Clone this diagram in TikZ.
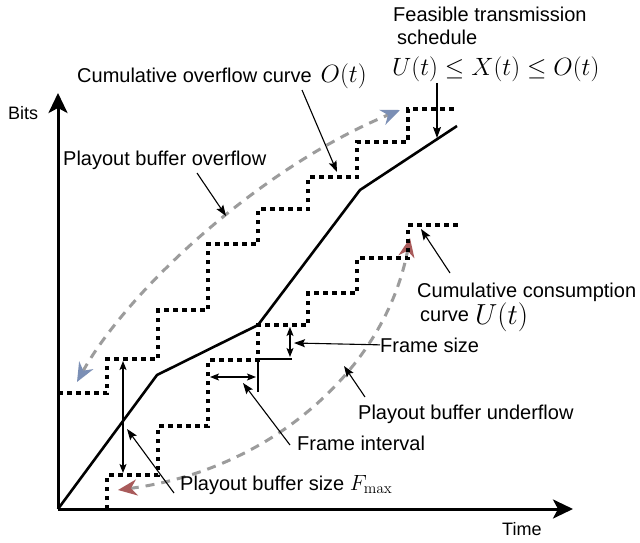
\RequirePackage{fix-cm}
\documentclass[tikz,border=0pt]{standalone}
\usepackage[no-math]{fontspec}
\setmainfont{Liberation Sans}
\usetikzlibrary{arrows.meta}
\definecolor{dashgray}{HTML}{9C9C9C}
\definecolor{headblue}{HTML}{7B8FB5}
\definecolor{headred}{HTML}{A95B5B}
\begin{document}
\begin{tikzpicture}[x=1pt,y=-1pt,
 lbl/.style={anchor=base west, inner sep=0pt, font=\fontsize{20}{23}\selectfont},
 axlbl/.style={anchor=base west, inner sep=0pt, font=\fontsize{18}{21}\selectfont},
 mathlbl/.style={anchor=base west, inner sep=0pt, font=\fontsize{25}{28}\selectfont},
 axis/.style={line width=3pt, -{Stealth[length=20pt,width=19pt,inset=5pt]}},
 stair/.style={line width=4pt, dash pattern=on 4.5pt off 4.5pt},
 sched/.style={line width=2.6pt, line join=round},
 thinline/.style={line width=1.3pt},
 ptr/.style={line width=1.1pt, -{Stealth[length=11pt,width=8pt,inset=2pt]}},
 dbl/.style={line width=1.1pt, {Stealth[length=9pt,width=7pt,inset=2pt]}-{Stealth[length=9pt,width=7pt,inset=2pt]}},
 gdash/.style={draw=dashgray, line width=3pt, dash pattern=on 9pt off 7pt},
 bluetips/.style={{Stealth[length=19pt,width=16pt,inset=6pt,color=headblue]}-{Stealth[length=19pt,width=16pt,inset=6pt,color=headblue]}},
 redtips/.style={{Stealth[length=19pt,width=16pt,inset=6pt,color=headred]}-{Stealth[length=19pt,width=16pt,inset=6pt,color=headred]}},
]
\useasboundingbox (0,0) rectangle (640,543);
\fill[white] (0,0) rectangle (640,543);

% axes
\coordinate (o) at (58,509);
\coordinate (ytip) at (58,93);
\coordinate (xtip) at (573,509);
\draw[axis] (o) -- (ytip);
\draw[axis] (o) -- (xtip);
\node[axlbl] (tBits) at (8,119) {Bits};
\node[axlbl] (tTime) at (502,535) {Time};

% dashed gray curves
\coordinate (ovA) at (77,382);
\coordinate (ovB) at (400,110);
\draw[gdash, bluetips] (ovA) .. controls (125,295) and (255,170) .. (ovB);
\coordinate (unA) at (118,490);
\coordinate (unB) at (410,238);
\draw[gdash, redtips] (unA) .. controls (270,470) and (385,370) .. (unB);

% staircases
\draw[stair] (58,393) -| (107,359) -| (158,310) -| (208,244) -| (258,209) -| (308,177) -| (357,142) -| (408,109) -- (458,109);
\draw[stair] (107,509) |- (158,475) |- (208,426) |- (258,360) |- (308,325) |- (357,293) |- (408,258) |- (458,225);

% transmission schedule
\draw[sched] (o) -- (157,375) -- (258,325) -- (360,190) -- (457,126);

% frame size / interval helpers
\coordinate (fsA) at (258,359);
\coordinate (fsB) at (292,359);
\coordinate (fiV) at (258,392);
\draw[thinline] (fsB) -- (fsA) -- (fiV);
\coordinate (fsT) at (290,327);
\coordinate (fsD) at (290,357);
\draw[dbl] (fsT) -- (fsD);
\coordinate (fiL) at (210,377);
\coordinate (fiR) at (256,377);
\draw[dbl] (fiL) -- (fiR);
\coordinate (bsT) at (123,361);
\coordinate (bsD) at (123,473);
\draw[dbl] (bsT) -- (bsD);

% labels
\node[lbl] (tOv) at (77,83) {Cumulative overflow curve\hspace{9pt}{\fontsize{25}{28}\selectfont$O(t)$}};
\node[lbl] (tPbo) at (63,165) {Playout buffer overflow};
\node[lbl] (tFea1) at (393,22) {Feasible transmission};
\node[lbl] (tFea2) at (397,45) {schedule};
\node[mathlbl] (tFea3) at (392,75) {$U(t)\le X(t)\le O(t)$};
\node[lbl] (tCc1) at (417,297) {Cumulative consumption};
\node[lbl] (tCc2) at (420,321) {curve\hspace{6pt}\raisebox{-3pt}{\fontsize{29}{32}\selectfont$U(t)$}};
\node[lbl] (tFs) at (380,352) {Frame size};
\node[lbl] (tPbu) at (358,419) {Playout buffer underflow};
\node[lbl] (tFi) at (297,450) {Frame interval};
\node[lbl] (tPbs) at (180,490) {Playout buffer size {\fontsize{22}{24}\selectfont$F_{\max}$}};

% pointers
\coordinate (pOvS) at (302,90);   \coordinate (pOvE) at (337,172);
\draw[ptr] (pOvS) -- (pOvE);
\coordinate (pFeS) at (437,83);   \coordinate (pFeE) at (437,138);
\draw[ptr] (pFeS) -- (pFeE);
\coordinate (pPbS) at (197,173);  \coordinate (pPbE) at (226,216);
\draw[ptr] (pPbS) -- (pPbE);
\coordinate (pCcS) at (450,273);  \coordinate (pCcE) at (421,229);
\draw[ptr] (pCcS) -- (pCcE);
\coordinate (pFsE) at (294,343);
\draw[ptr] (tFs.west) -- (pFsE);
\coordinate (pPuS) at (365,397);  \coordinate (pPuE) at (344,366);
\draw[ptr] (pPuS) -- (pPuE);
\coordinate (pFiS) at (290,445);  \coordinate (pFiE) at (243,383);
\draw[ptr] (pFiS) -- (pFiE);
\coordinate (pBsS) at (174,493);  \coordinate (pBsE) at (127,429);
\draw[ptr] (pBsS) -- (pBsE);
\end{tikzpicture}
\end{document}
